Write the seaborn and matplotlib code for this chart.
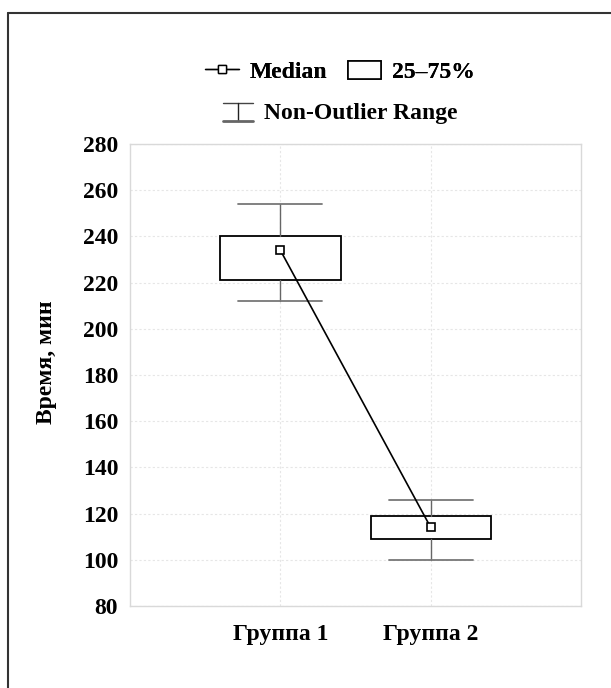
import matplotlib
matplotlib.use('Agg')
from matplotlib import pyplot as plt
from matplotlib.legend_handler import HandlerBase
from matplotlib.lines import Line2D
from matplotlib.patches import Rectangle
import seaborn as sns
import pandas as pd

groups = ['Группа 1', 'Группа 2']
medians = [234, 114]
q1 = [221, 109]
q3 = [240, 119]
whisker_lo = [212, 100]
whisker_hi = [254, 126]
y_ticks = list(range(80, 281, 20))


class WhiskerHandler(HandlerBase):
    # little "I" shaped symbol for the non-outlier range
    def create_artists(self, legend, orig_handle, xdescent, ydescent,
                       width, height, fontsize, trans):
        x0 = -xdescent
        x1 = -xdescent + width
        cx = (x0 + x1) / 2
        top = -ydescent + height * 0.95
        bot = -ydescent - height * 0.05
        arts = [Line2D([x0, x1], [top, top], color='#444444', lw=1.0),
                Line2D([cx, cx], [bot, top], color='#222222', lw=1.0),
                Line2D([x0, x1], [bot, bot], color='#666666', lw=2.0)]
        for a in arts:
            a.set_transform(trans)
        return arts


sns.set_style('white')
plt.rcParams['font.family'] = ['Liberation Serif', 'DejaVu Serif']
plt.rcParams['font.weight'] = 'bold'
plt.rcParams['text.color'] = 'black'
plt.rcParams['axes.labelcolor'] = 'black'
plt.rcParams['xtick.color'] = 'black'
plt.rcParams['ytick.color'] = 'black'
fs = 17

fig = plt.figure(figsize=(6.11, 6.88), dpi=100)
ax = fig.add_axes([0.2128, 0.1192, 0.7382, 0.6715])

stats = []
for i in range(len(groups)):
    stats.append(dict(med=medians[i], q1=q1[i], q3=q3[i],
                      whislo=whisker_lo[i], whishi=whisker_hi[i], label=groups[i]))

ax.bxp(stats, positions=range(len(groups)), widths=0.8, capwidths=0.56,
       showfliers=False, patch_artist=True,
       boxprops=dict(facecolor='white', edgecolor='black', linewidth=1.3),
       whiskerprops=dict(color='#666666', linewidth=1.0),
       capprops=dict(color='#777777', linewidth=1.3),
       medianprops=dict(linewidth=0))

df = pd.DataFrame({'pos': range(len(groups)), 'median': medians})
sns.lineplot(data=df, x='pos', y='median', ax=ax, color='black', lw=1.2,
             marker='s', markersize=6, markerfacecolor='white',
             markeredgecolor='black', markeredgewidth=1.2, zorder=5)

ax.set_xlim(-1, 2)
ax.set_ylim(80, 280)
ax.set_yticks(y_ticks)
ax.set_xticks(range(len(groups)))
ax.set_xticklabels(groups)
ax.set_xlabel('')
ax.set_ylabel('Время, мин', fontsize=fs, fontweight='bold', color='black')
ax.yaxis.set_label_coords(-0.162, 0.527)
ax.tick_params(axis='y', length=0, pad=8.5, labelsize=fs, labelcolor='black')
ax.tick_params(axis='x', length=0, pad=13, labelsize=fs, labelcolor='black')
ax.set_axisbelow(True)
ax.grid(True, linestyle=(0, (2, 2)), color='#e6e6e6', linewidth=0.8)
for s in ax.spines.values():
    s.set_color('#d9d9d9')
    s.set_linewidth(1.0)

h_med = Line2D([], [], color='black', lw=1.0, marker='s', markersize=6,
               markerfacecolor='white', markeredgecolor='black')
h_box = Rectangle((0, 0), 1, 1, facecolor='white', edgecolor='black', lw=1.2)
leg1 = fig.legend([h_med, h_box], ['Median', '25–75%'], ncol=2, loc='center',
                  bbox_to_anchor=(340 / 611, 1 - 72 / 688), frameon=False,
                  fontsize=fs, handlelength=1.4, handleheight=0.8,
                  handletextpad=0.45, columnspacing=0.9, labelcolor='black')
h_rng = Line2D([], [])
fig.legend([h_rng], ['Non-Outlier Range'], loc='center',
           bbox_to_anchor=(340 / 611, 1 - 113 / 688), frameon=False,
           fontsize=fs, handlelength=1.3, handleheight=0.8, handletextpad=0.45,
           labelcolor='black', handler_map={h_rng: WhiskerHandler()})
fig.add_artist(leg1)

# frame lines on the left and top of the picture
fig.add_artist(Line2D([8 / 611, 8 / 611], [0, 1 - 13 / 688],
                      transform=fig.transFigure, color='#333333', lw=1.5))
fig.add_artist(Line2D([8 / 611, 1], [1 - 13 / 688, 1 - 13 / 688],
                      transform=fig.transFigure, color='#333333', lw=1.5))

fig.savefig('out.png', dpi=100, facecolor='white')
